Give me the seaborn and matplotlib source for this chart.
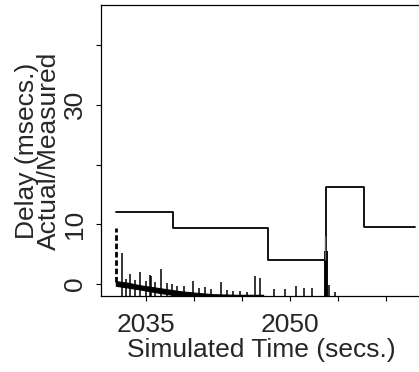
import matplotlib
matplotlib.use("Agg")
import matplotlib.pyplot as plt
import seaborn as sns
import pandas as pd

# estimated delay (step line)
step_time = [2031.9, 2037.8, 2047.7, 2053.7, 2057.7, 2063.0]
step_delay = [12.0, 9.4, 4.0, 16.2, 9.5, 9.5]

# dense band of measured delays (upper / lower edge)
band_time = [2031.9, 2033.2, 2034.4, 2036.5, 2038.6, 2040.5, 2042.0, 2044.5, 2047.2]
band_upper = [0.5, 0.2, -0.2, -0.7, -1.2, -1.5, -1.7, -1.8, -1.8]
band_lower = [-0.3, -0.6, -0.9, -1.5, -2.0, -2.5, -2.5, -2.5, -2.5]

# spikes in measured delay
spike_time = [2032.5, 2033.0, 2033.4, 2033.9, 2034.4, 2035.0, 2035.4, 2035.6,
              2036.0, 2036.6, 2037.2, 2037.7, 2038.3, 2039.0, 2039.9, 2040.5,
              2041.2, 2041.8, 2042.8, 2043.4, 2044.1, 2044.8, 2045.5, 2046.4,
              2046.9, 2048.3, 2049.5, 2050.6, 2051.4, 2052.3, 2054.0, 2054.7]
spike_top = [5.2, 0.8, 1.7, 0.6, 2.0, 0.5, 1.5, 1.3,
             0.3, 2.6, 0.2, 0.0, -0.4, -0.3, 0.5, -0.7,
             -0.5, -0.9, 0.4, -1.0, -1.2, -1.1, -1.3, 1.4,
             1.0, -0.8, -0.9, -0.4, -0.6, -0.7, -0.2, -1.3]

# the first burst and the big spike near 2053.7
burst_time = [2031.9, 2053.7]
burst_low = [0.4, -2.5]
burst_top = [9.4, 5.5]
tail_time = [2053.6]
tail_top = [8.0]

yticks = [0, 10, 20, 30, 40]
ytick_labels = ["0", "10", "", "30", ""]
xticks = [2035, 2040, 2045, 2050, 2055, 2060]
xtick_labels = ["2035", "", "", "2050", "", ""]

sns.set_style("white")
plt.rcParams["font.family"] = ["Liberation Sans", "DejaVu Sans"]
fs = 19

fig = plt.figure(figsize=(4.19, 3.72), dpi=100)
ax = fig.add_axes([101 / 419, 76 / 372, 320 / 419, 291 / 372])

df_step = pd.DataFrame({"time": step_time, "delay": step_delay})
sns.lineplot(data=df_step, x="time", y="delay", drawstyle="steps-post",
             color="black", lw=1.3, estimator=None, ax=ax)

ax.fill_between(band_time, band_lower, band_upper, color="black", lw=0.8)
ax.vlines(spike_time, -2.5, spike_top, color="black", lw=1.1)
ax.vlines(burst_time[0], burst_low[0], burst_top[0], color="black", lw=2.0,
          linestyles=(0, (2, 1)))
ax.vlines(burst_time[1], burst_low[1], burst_top[1], color="black", lw=2.8)
ax.vlines(tail_time, 4.0, tail_top, color="0.4", lw=1.0)

ax.set_xlim(2030.36, 2063.6)
ax.set_ylim(-2.0, 46.7)
ax.set_xticks(xticks)
ax.set_xticklabels(xtick_labels, fontsize=fs)
ax.set_yticks(yticks)
ax.set_yticklabels(ytick_labels, fontsize=fs, rotation=90, va="center")
ax.tick_params(direction="out", length=3.3, width=0.8, color="black",
               bottom=True, left=True)
ax.tick_params(axis="x", pad=9)
ax.tick_params(axis="y", pad=7)

ax.set_xlabel("Simulated Time (secs.)", fontsize=fs, labelpad=0.5)
ax.set_ylabel("Delay (msecs.)\nActual/Measured", fontsize=fs,
              labelpad=1, linespacing=0.92)

for side in ["left", "top", "bottom"]:
    ax.spines[side].set_color("black")
    ax.spines[side].set_linewidth(0.9)
ax.spines["right"].set_visible(False)

fig.savefig("out.png", dpi=100)
